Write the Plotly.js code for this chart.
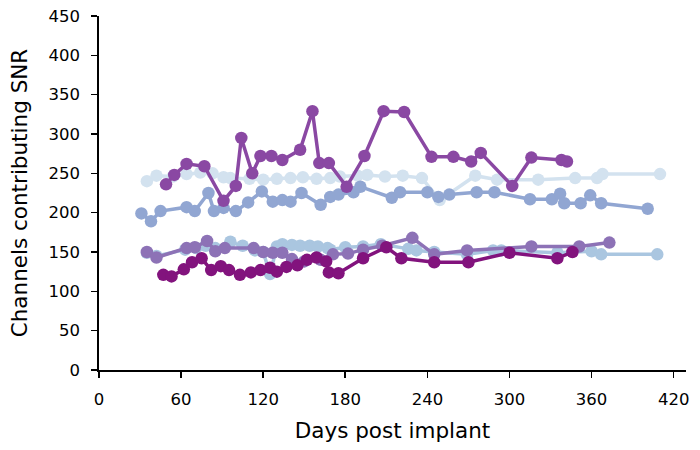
<!DOCTYPE html>
<html>
<head>
<meta charset="utf-8">
<script src="https://cdn.plot.ly/plotly-3.0.1.min.js"></script>
<style>html,body{margin:0;padding:0;background:#fff}#chart{width:700px;height:450px}</style>
</head>
<body>
<div id="chart"></div>
<script>
// Series 1: lightest blue (upper)
const daysA = [35,42,54,64,74,83,91,96,110,120,130,140,149,159,169,176,189,196,209,222,236,249,275,291,321,348,364,368,410];
const valsA = [240,247,246,249,251,250,245,244,243,242,243,244,245,243,244,246,247,248,246,247,244,216,247,242,242,244,244,249,249];
// Series 2: light blue (lower)
const daysB = [35,42,63,71,78,85,96,105,114,120,125,130,134,141,147,154,160,167,169,180,193,206,226,232,245,269,288,294,335,360,367,408];
const valsB = [149,145,153,155,158,155,163,158,152,150,122,157,160,159,158,158,157,155,153,156,157,160,154,152,150,147,152,152,149,151,147,147];
// Series 3: medium blue
const daysC = [31,38,45,64,70,80,84,91,100,109,119,127,134,140,148,162,169,175,186,191,214,220,240,248,256,276,289,315,331,337,340,352,359,367,401];
const valsC = [199,189,202,207,202,225,202,206,202,213,227,214,216,214,225,210,220,223,226,233,219,226,226,220,223,226,226,217,217,224,212,212,222,212,205];
// Series 4: lavender
const daysD = [35,42,64,70,79,85,92,113,120,127,134,141,150,162,171,182,193,207,229,245,269,316,351,373];
const valsD = [150,143,155,156,164,151,155,155,150,149,149,141,138,140,147,148,153,158,168,147,152,157,157,162];
// Series 5: purple
const daysE = [49,55,64,77,91,100,104,112,118,126,134,147,156,161,168,181,194,208,223,243,259,272,279,302,316,338,342];
const valsE = [236,248,262,259,215,234,295,250,272,272,267,280,329,263,263,233,272,329,328,271,271,265,276,234,270,267,265];
// Series 6: dark purple
const daysF = [47,53,62,68,75,82,89,95,103,111,118,125,130,137,145,152,159,166,168,175,193,210,221,245,270,300,335,346];
const valsF = [121,119,128,137,142,127,132,127,121,124,127,130,125,131,133,140,143,138,124,123,142,156,142,137,137,149,142,150];

const xTicks = [0,60,120,180,240,300,360,420];
const yTicks = [0,50,100,150,200,250,300,350,400,450];

function tr(x, y, color) {
  return {x: x, y: y, type: 'scatter', mode: 'lines+markers',
    line: {color: color, width: 3.5}, marker: {color: color, size: 12.5}, hoverinfo: 'skip', showlegend: false};
}

const data = [
  tr(daysA, valsA, '#d3e2ef'),
  tr(daysB, valsB, '#aac6e0'),
  tr(daysC, valsC, '#91a6d2'),
  tr(daysD, valsD, '#8d72b6'),
  tr(daysE, valsE, '#8a48a3'),
  tr(daysF, valsF, '#82137d')
];

const fam = 'DejaVu Sans, sans-serif';
const layout = {
  width: 700, height: 450,
  margin: {l: 99, r: 14, t: 16, b: 80},
  paper_bgcolor: '#fff', plot_bgcolor: '#fff',
  font: {family: fam, color: '#000'},
  xaxis: {
    range: [0, 429], tickvals: xTicks, ticktext: xTicks.map(String),
    showgrid: false, zeroline: false, showline: true, linecolor: '#000', linewidth: 1.6,
    ticks: 'outside', ticklen: 6, tickwidth: 1.6, tickcolor: '#000', ticklabelstandoff: 8,
    tickfont: {family: fam, size: 16.5, color: '#000'},
    title: {text: 'Days post implant', font: {family: fam, size: 21.5, color: '#000'}, standoff: 14}
  },
  yaxis: {
    range: [0, 450], tickvals: yTicks, ticktext: yTicks.map(String),
    showgrid: false, zeroline: false, showline: true, linecolor: '#000', linewidth: 1.6,
    ticks: 'outside', ticklen: 6, tickwidth: 1.6, tickcolor: '#000', ticklabelstandoff: 8,
    tickfont: {family: fam, size: 16.5, color: '#000'},
    title: {text: 'Channels contributing SNR', font: {family: fam, size: 21.5, color: '#000'}, standoff: 15}
  }
};

Plotly.newPlot('chart', data, layout, {staticPlot: true, displayModeBar: false});
</script>
</body>
</html>
